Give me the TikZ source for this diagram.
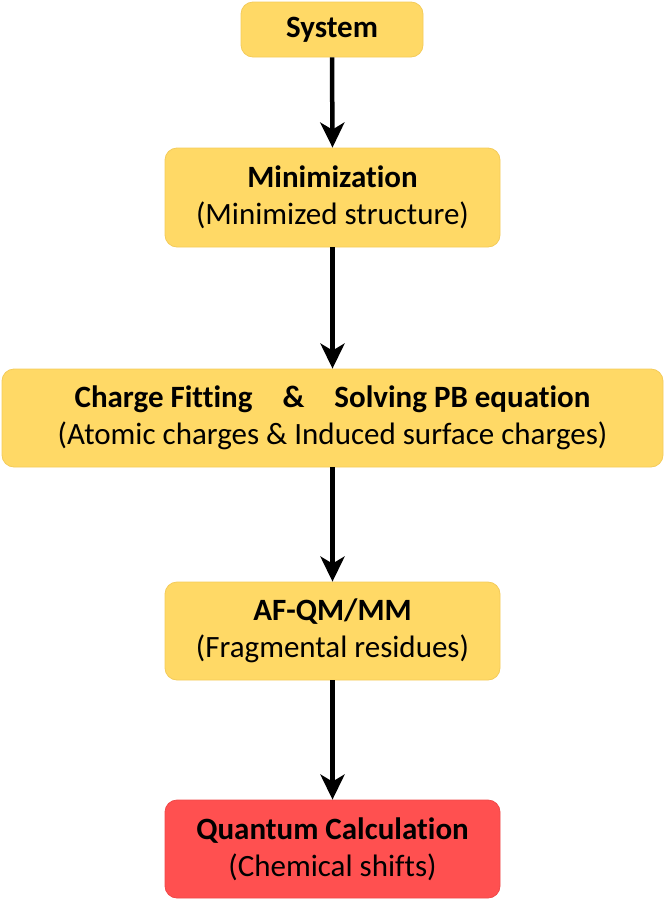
\documentclass[tikz,border=0pt]{standalone}
\usepackage{fontspec}
\setmainfont[Ligatures={NoCommon}]{Carlito}
\usetikzlibrary{arrows.meta}
\definecolor{boxyellow}{HTML}{FFD966}
\definecolor{boxyedge}{HTML}{F4CB5A}
\definecolor{boxred}{HTML}{FF5050}
\definecolor{boxredge}{HTML}{F04848}
\tikzset{
  flowbox/.style={draw=boxyedge, line width=0.8pt, fill=boxyellow, rounded corners=12pt, align=center, inner sep=0pt, font=\fontsize{31}{37}\selectfont},
  redbox/.style={flowbox, draw=boxredge, fill=boxred},
  flowarrow/.style={line width=4.5pt, -{Stealth[length=25pt,width=24pt,inset=7pt]}, shorten >=0pt}
}
\begin{document}
\begin{tikzpicture}[x=1pt,y=-1pt]
\useasboundingbox (0,0) rectangle (665,900);
\node[flowbox, minimum width=182pt, minimum height=55pt] (sys) at (332,29.5) {\textbf{System}};
\node[flowbox, minimum width=335pt, minimum height=99pt] (min) at (332.5,197.5) {\textbf{Minimization}\\(Minimized structure)};
\node[flowbox, minimum width=661pt, minimum height=98pt] (chg) at (332.5,418) {\textbf{Charge Fitting\hspace{30pt}\&\hspace{30pt}Solving PB equation}\\(Atomic charges \& Induced surface charges)};
\node[flowbox, minimum width=335pt, minimum height=98pt] (af) at (332.5,631) {\textbf{AF-QM/MM}\\(Fragmental residues)};
\node[redbox, minimum width=335pt, minimum height=98pt] (qc) at (332.5,849) {\textbf{Quantum Calculation}\\(Chemical shifts)};
\draw[flowarrow] (sys.south) -- (min.north);
\draw[flowarrow] (min.south) -- (chg.north);
\draw[flowarrow] (chg.south) -- (af.north);
\draw[flowarrow] (af.south) -- (qc.north);
\end{tikzpicture}
\end{document}
